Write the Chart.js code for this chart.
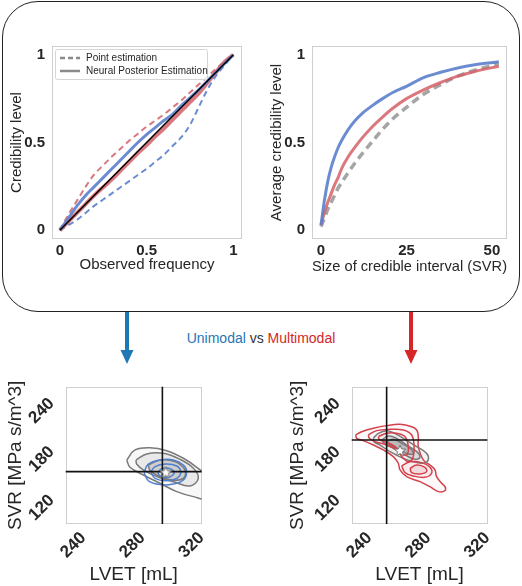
<!DOCTYPE html>
<html>
<head>
<meta charset="utf-8">
<script src="https://cdn.jsdelivr.net/npm/chart.js@4.4.1/dist/chart.umd.min.js"></script>
<style>
  body { margin: 0; background: #fff; width: 522px; height: 586px; overflow: hidden; position: relative; font-family: "Liberation Sans", Arial, sans-serif; }
  canvas { position: absolute; }
  #box { position: absolute; left: 2px; top: 1px; width: 518px; height: 311px; box-sizing: border-box; border: 1.5px solid #222; border-radius: 36px; }
  #mid { position: absolute; left: 0; top: 330px; width: 522px; text-align: center; font-size: 14px; line-height: 16px; color: #333; }
  #arrows { position: absolute; left: 0; top: 0; }
</style>
</head>
<body>
<div id="box"></div>
<svg id="arrows" width="522" height="586">
  <line x1="127" y1="312" x2="127" y2="352" stroke="#1f77b4" stroke-width="4"/>
  <polygon points="120.5,350 133.5,350 127,364" fill="#1f77b4"/>
  <line x1="411" y1="312" x2="411" y2="352" stroke="#d62728" stroke-width="4"/>
  <polygon points="404.5,350 417.5,350 411,364" fill="#d62728"/>
</svg>
<div id="mid"><span style="color:#1f77b4">Unimodal</span> vs <span style="color:#d62728">Multimodal</span></div>
<canvas id="calib" width="255" height="255" style="left:0px;top:30px"></canvas>
<canvas id="avg" width="258" height="255" style="left:260px;top:30px"></canvas>
<canvas id="uni" width="260" height="226" style="left:0px;top:360px"></canvas>
<canvas id="multi" width="262" height="226" style="left:260px;top:360px"></canvas>
<script>
Chart.defaults.font.family = '"Liberation Sans", Arial, sans-serif';
Chart.defaults.color = "#262626";

// calibration curves (top left)
let calX = [0, 0.05, 0.1, 0.15, 0.2, 0.25, 0.3, 0.35, 0.4, 0.45, 0.5, 0.55, 0.6, 0.65, 0.7, 0.75, 0.8, 0.85, 0.9, 0.95, 1];
let uniNpe = [0, 0.07, 0.14, 0.2, 0.25, 0.3, 0.35, 0.4, 0.45, 0.5, 0.545, 0.585, 0.625, 0.66, 0.71, 0.755, 0.8, 0.85, 0.9, 0.95, 1];
let multiNpe = [0, 0.05, 0.1, 0.15, 0.2, 0.245, 0.29, 0.34, 0.39, 0.44, 0.485, 0.535, 0.58, 0.63, 0.68, 0.73, 0.78, 0.84, 0.9, 0.96, 1];
let uniPoint = [0, 0.03, 0.06, 0.1, 0.14, 0.175, 0.21, 0.245, 0.28, 0.315, 0.35, 0.39, 0.43, 0.48, 0.53, 0.6, 0.7, 0.8, 0.88, 0.94, 1];
let multiPoint = [0, 0.09, 0.17, 0.25, 0.32, 0.37, 0.42, 0.465, 0.51, 0.55, 0.59, 0.625, 0.66, 0.7, 0.74, 0.785, 0.83, 0.875, 0.92, 0.96, 1];
let refX = [0, 1];
let refY = [0, 1];
let calTicks = [0, 0.5, 1];
let calTickLabels = ["0", "0.5", "1"];

// average credibility vs interval size (top right)
let sizeX = [0, 1, 2, 3, 4, 5, 6, 8, 10, 12, 15, 18, 21, 25, 30, 35, 40, 45, 52];
let uniAvg = [0.03, 0.17, 0.28, 0.36, 0.42, 0.47, 0.51, 0.575, 0.625, 0.665, 0.71, 0.75, 0.785, 0.82, 0.87, 0.9, 0.925, 0.943, 0.96];
let multiAvg = [0.03, 0.1, 0.16, 0.21, 0.26, 0.3, 0.35, 0.42, 0.475, 0.525, 0.59, 0.645, 0.695, 0.75, 0.8, 0.842, 0.878, 0.905, 0.935];
let pointAvg = [0.02, 0.07, 0.12, 0.16, 0.2, 0.24, 0.27, 0.33, 0.385, 0.435, 0.505, 0.575, 0.635, 0.7, 0.775, 0.83, 0.878, 0.912, 0.95];
let sizeTicks = [0, 25, 50];
let sizeTickLabels = ["0", "25", "50"];

// posterior contours, [LVET, SVR]
let lvetTicks = [240, 280, 320];
let svrTicks = [120, 180, 240];
let uniTrue = [293.4, 164.8];
let uniEst = [295.7, 163.6];
let uniGray1 = [[269.3, 179.3], [274.9, 191.7], [285.0, 194.5], [296.3, 190.8], [307.6, 181.4], [316.6, 170.2], [323.4, 158.6], [323.4, 131.8], [314.4, 133.9], [303.1, 140.1], [291.8, 150.4], [280.5, 160.7], [271.5, 170.2]];
let uniGray2 = [[275.6, 179.3], [282.8, 186.7], [294.1, 187.5], [305.3, 180.1], [314.4, 169.0], [317.7, 156.6], [312.1, 147.1], [300.8, 152.4], [289.6, 158.6], [280.5, 166.9], [276.0, 174.3]];
let uniGray3 = [[283.9, 173.1], [291.8, 179.3], [301.9, 177.3], [308.7, 166.9], [307.6, 156.6], [299.7, 154.5], [290.7, 159.5], [285.1, 166.1]];
let uniBlue1 = [[281.0, 163.8], [283.9, 174.1], [291.8, 179.3], [300.8, 179.3], [307.6, 173.1], [309.8, 164.8], [307.6, 154.5], [299.7, 149.1], [290.7, 149.1], [283.9, 153.6]];
let uniBlue2 = [[285.5, 164.0], [288.4, 171.0], [295.7, 174.3], [303.1, 171.8], [305.8, 164.0], [303.1, 156.6], [295.7, 153.7], [288.4, 156.6]];
let uniBlue3 = [[290.2, 163.6], [292.9, 168.5], [296.3, 169.3], [299.7, 167.7], [301.5, 163.6], [299.0, 158.6], [295.6, 157.8], [291.8, 159.5]];

let multiTrue = [251.7, 204.0];
let multiEst = [260.8, 190.4];
let multiRed1 = [[230.7, 210.2], [234.8, 214.3], [242.7, 218.5], [251.7, 221.8], [260.8, 223.4], [268.7, 220.5], [272.1, 216.4], [273.2, 208.1], [273.2, 195.8], [276.6, 179.3], [281.1, 173.1], [284.5, 166.9], [285.6, 158.6], [289.0, 150.4], [291.3, 146.2], [291.3, 141.3], [286.8, 140.1], [281.1, 146.2], [274.3, 152.4], [265.3, 158.6], [260.8, 166.9], [259.6, 175.2], [256.2, 183.4], [249.5, 191.7], [242.7, 197.8], [235.9, 203.2], [231.4, 206.1]];
let multiRed2a = [[239.3, 210.2], [244.9, 215.6], [254.0, 217.2], [263.0, 216.4], [268.7, 210.2], [270.3, 195.8], [269.4, 181.3], [266.4, 177.2], [263.0, 181.3], [258.5, 191.7], [251.7, 197.8], [243.8, 202.0], [240.0, 206.1]];
let multiRed2b = [[261.9, 171.9], [267.6, 177.2], [275.4, 176.0], [281.1, 170.2], [282.2, 162.8], [277.7, 157.8], [269.8, 159.5], [264.2, 163.6]];
let multiRed3a = [[246.1, 208.1], [251.7, 212.3], [258.5, 212.3], [264.2, 208.1], [266.4, 195.8], [265.3, 185.5], [261.9, 187.5], [257.4, 195.8], [250.6, 202.0], [246.7, 204.9]];
let multiRed3b = [[267.6, 169.0], [272.1, 173.1], [277.7, 170.2], [278.8, 164.8], [274.3, 162.0], [268.7, 163.6]];
let multiGray1 = [[242.7, 206.1], [246.1, 212.3], [251.7, 215.6], [256.2, 213.1], [263.0, 206.1], [272.1, 195.8], [278.8, 187.5], [279.9, 179.3], [276.6, 175.2], [269.8, 177.2], [263.0, 181.3], [254.0, 189.6], [247.2, 197.8], [243.1, 202.0]];
let multiGray2 = [[248.3, 204.0], [252.9, 209.0], [258.5, 206.1], [265.3, 197.8], [272.1, 189.6], [274.3, 182.6], [270.9, 180.1], [264.2, 185.5], [256.2, 193.7], [250.6, 199.1]];
let multiGray3 = [[251.7, 202.0], [256.2, 204.9], [261.9, 199.9], [267.6, 193.7], [269.8, 187.5], [266.4, 186.7], [260.8, 191.7], [254.0, 197.8]];

let blue = "rgba(92,128,204,0.9)";
let red = "rgba(212,96,102,0.85)";

function series(xs, ys, color, width, dash) {
  return {
    data: xs.map((x, i) => ({ x: x, y: ys[i] })),
    borderColor: color,
    borderWidth: width,
    borderDash: dash || [],
    pointRadius: 0,
    cubicInterpolationMode: "monotone",
    fill: false
  };
}

function contour(pts, color, width, bg) {
  let d = pts.map(p => ({ x: p[0], y: p[1] }));
  d.push(d[0]);
  return {
    data: d,
    borderColor: color,
    borderWidth: width,
    backgroundColor: bg || "transparent",
    fill: bg ? "shape" : false,
    pointRadius: 0,
    tension: 0.4
  };
}

function cross(pt) {
  return [
    { data: [{ x: pt[0], y: 0 }, { x: pt[0], y: 400 }], borderColor: "#111", borderWidth: 1.6, pointRadius: 0 },
    { data: [{ x: 0, y: pt[1] }, { x: 400, y: pt[1] }], borderColor: "#111", borderWidth: 1.6, pointRadius: 0 }
  ];
}

function makeStar() {
  let c = document.createElement("canvas");
  c.width = 14;
  c.height = 14;
  let g = c.getContext("2d");
  g.beginPath();
  for (let i = 0; i < 10; i++) {
    let r = i % 2 == 0 ? 6 : 2.6;
    let a = -Math.PI / 2 + i * Math.PI / 5;
    g.lineTo(7 + r * Math.cos(a), 7 + r * Math.sin(a));
  }
  g.closePath();
  g.fillStyle = "#fff";
  g.fill();
  g.strokeStyle = "#777";
  g.lineWidth = 1;
  g.stroke();
  return c;
}
let star = makeStar();

function starSet(pt) {
  return { data: [{ x: pt[0], y: pt[1] }], showLine: false, pointStyle: star, pointRadius: 7, pointHoverRadius: 7 };
}

// light grey frame round the plot area
let framePlugin = {
  id: "frame",
  beforeDatasetsDraw(chart) {
    let a = chart.chartArea;
    let ctx = chart.ctx;
    ctx.save();
    ctx.strokeStyle = "#cfcfcf";
    ctx.lineWidth = 1;
    ctx.strokeRect(Math.round(a.left) + 0.5, Math.round(a.top) + 0.5, Math.round(a.right - a.left) - 1, Math.round(a.bottom - a.top) - 1);
    ctx.restore();
  }
};

// legend box of the calibration plot
let legendPlugin = {
  id: "styleLegend",
  afterDatasetsDraw(chart) {
    let a = chart.chartArea;
    let ctx = chart.ctx;
    let x0 = a.left + 3, y0 = a.top + 3;
    ctx.save();
    ctx.fillStyle = "rgba(255,255,255,0.85)";
    ctx.strokeStyle = "#d5d5d5";
    ctx.lineWidth = 1;
    ctx.beginPath();
    ctx.roundRect(x0 + 0.5, y0 + 0.5, 152, 30, 2);
    ctx.fill();
    ctx.stroke();
    ctx.strokeStyle = "#8a8a8a";
    ctx.lineWidth = 2.5;
    ctx.setLineDash([5, 3]);
    ctx.beginPath();
    ctx.moveTo(x0 + 5, y0 + 9);
    ctx.lineTo(x0 + 25, y0 + 9);
    ctx.stroke();
    ctx.setLineDash([]);
    ctx.beginPath();
    ctx.moveTo(x0 + 5, y0 + 22);
    ctx.lineTo(x0 + 25, y0 + 22);
    ctx.stroke();
    ctx.fillStyle = "#262626";
    ctx.font = '10px "Liberation Sans", Arial, sans-serif';
    ctx.textBaseline = "middle";
    ctx.fillText("Point estimation", x0 + 31, y0 + 9);
    ctx.fillText("Neural Posterior Estimation", x0 + 31, y0 + 22);
    ctx.restore();
  }
};

// y tick labels turned by 45 degrees
let rotYPlugin = {
  id: "rotY",
  afterDraw(chart) {
    let s = chart.scales.y;
    let a = chart.chartArea;
    let ctx = chart.ctx;
    ctx.save();
    ctx.font = 'bold 17px "Liberation Sans", Arial, sans-serif';
    ctx.fillStyle = "#262626";
    ctx.textAlign = "center";
    ctx.textBaseline = "middle";
    svrTicks.forEach(v => {
      let y = s.getPixelForValue(v);
      ctx.save();
      ctx.translate(a.left - 24, y);
      ctx.rotate(-Math.PI / 4);
      ctx.fillText(String(v), 0, 0);
      ctx.restore();
    });
    ctx.restore();
  }
};

function topScales(xMin, xMax, xTicks, xLabels, xTitle, yTitle, xTitlePad) {
  return {
    x: {
      type: "linear", min: xMin, max: xMax,
      grid: { display: false, drawTicks: false }, border: { display: false },
      ticks: { font: { size: 15, weight: "bold" }, padding: 3, maxRotation: 0, callback: (v, i) => xLabels[i] },
      afterBuildTicks: s => { s.ticks = xTicks.map(v => ({ value: v })); },
      title: { display: true, text: xTitle, font: { size: 15 }, padding: { top: 0, bottom: xTitlePad } },
      afterFit: s => { s.height = 46; }
    },
    y: {
      type: "linear", min: -0.05, max: 1.05,
      grid: { display: false, drawTicks: false }, border: { display: false },
      ticks: { font: { size: 15, weight: "bold" }, padding: 7, callback: (v, i) => calTickLabels[i] },
      afterBuildTicks: s => { s.ticks = calTicks.map(v => ({ value: v })); },
      title: { display: true, text: yTitle, font: { size: 15 }, padding: { top: 8, bottom: 0 } },
      afterFit: s => { s.width = 52; }
    }
  };
}

function bottomScales(yWidth) {
  return {
    x: {
      type: "linear", min: 228, max: 320,
      grid: { display: false, drawTicks: false }, border: { display: false },
      ticks: { font: { size: 17, weight: "bold" }, padding: 4, minRotation: 45, maxRotation: 45, autoSkip: false },
      afterBuildTicks: s => { s.ticks = lvetTicks.map(v => ({ value: v })); },
      title: { display: true, text: "LVET [mL]", font: { size: 19 }, padding: { top: 0, bottom: 0 } },
      afterFit: s => { s.height = 62; }
    },
    y: {
      type: "linear", min: 100, max: 270,
      grid: { display: false, drawTicks: false }, border: { display: false },
      ticks: { display: false },
      afterBuildTicks: s => { s.ticks = svrTicks.map(v => ({ value: v })); },
      title: { display: true, text: "SVR [MPa s/m^3]", font: { size: 19 }, padding: { top: 4.6, bottom: 0 } },
      afterFit: s => { s.width = yWidth; }
    }
  };
}

let baseOpts = {
  responsive: false,
  animation: false,
  events: [],
  plugins: { legend: { display: false }, tooltip: { enabled: false } }
};

new Chart(document.getElementById("calib"), {
  type: "line",
  data: {
    datasets: [
      series(refX, refY, "#000", 1.5),
      series(calX, uniNpe, blue, 3),
      series(calX, multiNpe, red, 4),
      series(calX, multiPoint, red, 2, [6, 4]),
      series(calX, uniPoint, blue, 2, [6, 4])
    ]
  },
  options: Object.assign({}, baseOpts, {
    layout: { padding: { left: 0, top: 12, right: 13, bottom: 0 } },
    scales: topScales(-0.045, 1.05, calTicks, calTickLabels, "Observed frequency", "Credibility level", 11)
  }),
  plugins: [framePlugin, legendPlugin]
});

new Chart(document.getElementById("avg"), {
  type: "line",
  data: {
    datasets: [
      series(sizeX, uniAvg, blue, 3),
      series(sizeX, multiAvg, red, 3),
      series(sizeX, pointAvg, "rgba(160,160,160,0.95)", 3.5, [8, 5])
    ]
  },
  options: Object.assign({}, baseOpts, {
    layout: { padding: { left: 0, top: 13, right: 11, bottom: 0 } },
    scales: topScales(-2.63, 54.4, sizeTicks, sizeTickLabels, "Size of credible interval (SVR)", "Average credibility level", 9)
  }),
  plugins: [framePlugin]
});

let grayLine = "#7a7a7a";
let redLine = "#d4414a";
let blueLine = "#4f7fd0";

new Chart(document.getElementById("uni"), {
  type: "line",
  data: {
    datasets: [starSet(uniEst)].concat(cross(uniTrue)).concat([
      contour(uniBlue3, blueLine, 1.5),
      contour(uniBlue2, blueLine, 1.5),
      contour(uniBlue1, blueLine, 1.5),
      contour(uniGray3, grayLine, 1.5, "rgba(110,110,110,0.22)"),
      contour(uniGray2, grayLine, 1.5, "rgba(130,130,130,0.13)"),
      contour(uniGray1, grayLine, 1.5, "rgba(150,150,150,0.07)")
    ])
  },
  options: Object.assign({}, baseOpts, {
    layout: { padding: { left: 0, top: 26.7, right: 58.3, bottom: 0 } },
    scales: bottomScales(65.7)
  }),
  plugins: [framePlugin, rotYPlugin]
});

new Chart(document.getElementById("multi"), {
  type: "line",
  data: {
    datasets: [starSet(multiEst)].concat(cross(multiTrue)).concat([
      contour(multiRed3a, redLine, 1.5),
      contour(multiRed3b, redLine, 1.5, "rgba(210,90,100,0.12)"),
      contour(multiRed2a, redLine, 1.5),
      contour(multiRed2b, redLine, 1.5, "rgba(210,90,100,0.08)"),
      contour(multiGray3, grayLine, 1.5, "rgba(100,100,100,0.28)"),
      contour(multiGray2, grayLine, 1.5, "rgba(120,120,120,0.18)"),
      contour(multiGray1, grayLine, 1.5, "rgba(150,150,150,0.1)"),
      contour(multiRed1, redLine, 1.5, "rgba(220,120,130,0.05)")
    ])
  },
  options: Object.assign({}, baseOpts, {
    layout: { padding: { left: 22, top: 26.7, right: 34.7, bottom: 0 } },
    scales: bottomScales(69.7)
  }),
  plugins: [framePlugin, rotYPlugin]
});
</script>
</body>
</html>
